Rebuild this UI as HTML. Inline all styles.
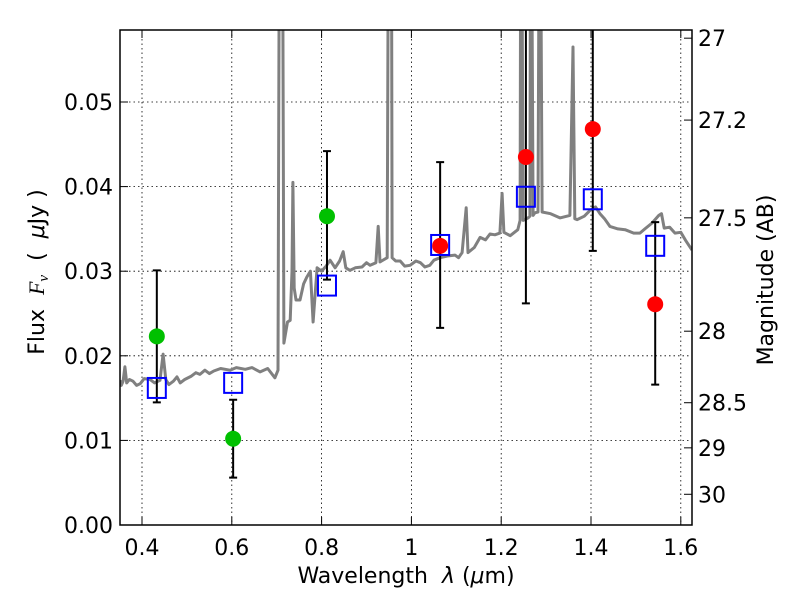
<!DOCTYPE html>
<html><head><meta charset="utf-8"><style>
body{margin:0;background:#fff}
svg text{font-family:"DejaVu Sans","Liberation Sans",sans-serif;fill:#000}
</style></head><body>
<svg id="chart" width="800" height="600" viewBox="0 0 800 600" xmlns="http://www.w3.org/2000/svg">
<rect x="0" y="0" width="800" height="600" fill="#fff"/>
<defs><clipPath id="pc"><rect x="120" y="30" width="572" height="495"/></clipPath></defs>
<g id="grid"></g>
<g id="plot" clip-path="url(#pc)"></g>
<rect x="120" y="30" width="572" height="495" fill="none" stroke="#000" stroke-width="1.5"/>
<g id="axes"></g>
<text x="406" y="583" font-size="22" text-anchor="middle">Wavelength&#160;&#160;<tspan font-style="italic">λ</tspan>&#160;(<tspan font-style="italic">μ</tspan>m)</text>
<text transform="translate(44,272) rotate(-90)" font-size="22" text-anchor="middle">Flux&#160;&#160;<tspan font-style="italic" font-family="Liberation Serif,serif">F<tspan font-size="15" dy="4">ν</tspan></tspan><tspan dy="-4">&#160;&#160;(&#160;&#160;</tspan><tspan font-style="italic">μ</tspan>Jy&#160;)</text>
<text transform="translate(773,280) rotate(-90)" font-size="22" text-anchor="middle">Magnitude (AB)</text>
</svg>
<script>
const specLam=[0.351,0.354,0.358,0.362,0.366,0.372,0.38,0.388,0.396,0.405,0.418,0.428,0.44,0.447,0.453,0.46,0.47,0.478,0.485,0.495,0.51,0.52,0.529,0.54,0.55,0.56,0.575,0.596,0.61,0.63,0.645,0.663,0.68,0.696,0.703,0.707,0.712,0.716,0.724,0.730,0.734,0.736,0.739,0.743,0.752,0.760,0.767,0.775,0.781,0.790,0.80,0.81,0.819,0.830,0.840,0.848,0.854,0.863,0.875,0.89,0.90,0.908,0.921,0.926,0.930,0.946,0.950,0.955,0.957,0.965,0.975,0.985,0.997,1.01,1.02,1.03,1.041,1.05,1.064,1.08,1.097,1.105,1.113,1.122,1.126,1.14,1.153,1.165,1.175,1.186,1.197,1.202,1.206,1.22,1.237,1.242,1.244,1.249,1.260,1.264,1.266,1.271,1.275,1.282,1.286,1.291,1.31,1.331,1.353,1.360,1.364,1.369,1.385,1.398,1.410,1.420,1.430,1.442,1.46,1.476,1.495,1.509,1.520,1.536,1.551,1.557,1.563,1.575,1.587,1.600,1.610,1.625];
const specFlux=[.0171,.0165,.0170,.0187,.0168,.0172,.0170,.0165,.0167,.0173,.0172,.0168,.0171,.0202,.0172,.0166,.0170,.0175,.0168,.0172,.0176,.0180,.0178,.0183,.0179,.0182,.0185,.0183,.0186,.0184,.0186,.0181,.0185,.0174,.0183,.09,.09,.0215,.0240,.0242,.0300,.0405,.0280,.0266,.0266,.0285,.0293,.0300,.0240,.0304,.0300,.0306,.0313,.0304,.0312,.0323,.0304,.0301,.0304,.0305,.0310,.0307,.0310,.0353,.0311,.0316,.09,.09,.0316,.0312,.0312,.0306,.0307,.0312,.0310,.0305,.0307,.0313,.0316,.0318,.0319,.0316,.0322,.0375,.0322,.0328,.0340,.0337,.0344,.0343,.0345,.0392,.0346,.0342,.0349,.0360,.09,.0360,.0363,.0365,.09,.0366,.0369,.0370,.09,.0370,.0368,.0363,.0366,.0565,.0362,.0361,.0365,.0372,.0376,.0368,.0362,.0353,.0350,.0349,.0345,.0345,.0350,.0357,.0366,.0368,.0351,.0352,.0345,.0346,.0337,.0325];
const greenLam=[0.433,0.603,0.812];
const greenFlux=[0.0223,0.0102,0.0365];
const greenHi=[0.0301,0.0148,0.0442];
const greenLo=[0.0145,0.0056,0.0290];
const redLam=[1.064,1.255,1.404,1.543];
const redFlux=[0.0330,0.0435,0.0468,0.0261];
const redHi=[0.0429,0.0610,0.0610,0.0358];
const redLo=[0.0233,0.0262,0.0324,0.0166];
const modelLam=[0.433,0.603,0.812,1.064,1.255,1.404,1.543];
const modelFlux=[0.0162,0.0168,0.0283,0.0331,0.0388,0.0385,0.0330];
const xTicks=[0.4,0.6,0.8,1.0,1.2,1.4,1.6];
const xTickLabels=["0.4","0.6","0.8","1","1.2","1.4","1.6"];
const yTicks=[0,0.01,0.02,0.03,0.04,0.05];
const yTickLabels=["0.00","0.01","0.02","0.03","0.04","0.05"];
const magTicks=[27,27.2,27.5,28,28.5,29,30];
const magTickLabels=["27","27.2","27.5","28","28.5","29","30"];

const X=l=>142+(l-0.4)*449;
const Y=f=>525-f*8460;
const magToFlux=m=>Math.pow(10,(23.9-m)/2.5);
const NS="http://www.w3.org/2000/svg";
function mk(tag,attrs,parent){const e=document.createElementNS(NS,tag);for(const k in attrs)e.setAttribute(k,attrs[k]);parent.appendChild(e);return e;}
const grid=document.getElementById('grid'),plot=document.getElementById('plot'),axes=document.getElementById('axes');

xTicks.forEach((t,i)=>{
  const g=mk('line',{x1:X(t),x2:X(t),y1:30,y2:525,stroke:'#000','stroke-width':0.8,'stroke-dasharray':'1.5,3'},grid);
  
  
  const a=mk('line',{x1:X(t),x2:X(t),y1:525,y2:517,stroke:'#000','stroke-width':1},axes);
  
  
  const b=mk('line',{x1:X(t),x2:X(t),y1:30,y2:38,stroke:'#000','stroke-width':1},axes);
  
  
  const tx=mk('text',{x:X(t),y:555,'font-size':22,'text-anchor':'middle'},axes);
  tx.textContent=xTickLabels[i];
  
  
});
yTicks.forEach((t,i)=>{
  if(t>0){const g=mk('line',{x1:120,x2:692,y1:Y(t),y2:Y(t),stroke:'#000','stroke-width':0.8,'stroke-dasharray':'1.5,3'},grid);
  
  }
  const a=mk('line',{x1:120,x2:128,y1:Y(t),y2:Y(t),stroke:'#000','stroke-width':1},axes);
  
  
  const tx=mk('text',{x:113,y:Y(t)+8,'font-size':22,'text-anchor':'end'},axes);
  tx.textContent=yTickLabels[i];
  
  
});
magTicks.forEach((m,i)=>{
  const y=Y(magToFlux(m));
  const a=mk('line',{x1:684,x2:692,y1:y,y2:y,stroke:'#000','stroke-width':1},axes);
  
  
  const tx=mk('text',{x:698,y:y+8,'font-size':22},axes);
  tx.textContent=magTickLabels[i];
  
  
});

const d=specLam.map((l,i)=>(i?'L':'M')+X(l).toFixed(1)+' '+Y(specFlux[i]).toFixed(1)).join(' ');
const sp=mk('path',{d:d,fill:'none',stroke:'#808080','stroke-width':3,'stroke-linejoin':'round'},plot);



function errbar(l,lo,hi){
  const x=X(l);
  const e=mk('path',{d:`M${x} ${Y(lo)}L${x} ${Y(hi)}M${x-4} ${Y(lo)}L${x+4} ${Y(lo)}M${x-4} ${Y(hi)}L${x+4} ${Y(hi)}`,stroke:'#000','stroke-width':2,fill:'none'},plot);
  
  
}
greenLam.forEach((l,i)=>errbar(l,greenLo[i],greenHi[i]));
redLam.forEach((l,i)=>errbar(l,redLo[i],redHi[i]));
modelLam.forEach((l,i)=>{
  const r=mk('rect',{x:X(l)-9,y:Y(modelFlux[i])-10,width:18,height:20,fill:'none',stroke:'#0000ff','stroke-width':2},plot);
  
  
});
greenLam.forEach((l,i)=>{
  const c=mk('circle',{cx:X(l),cy:Y(greenFlux[i]),r:8,fill:'#00c000'},plot);
  
  
});
redLam.forEach((l,i)=>{
  const c=mk('circle',{cx:X(l),cy:Y(redFlux[i]),r:8,fill:'#ff0000'},plot);
  
  
});
</script>
</body></html>
